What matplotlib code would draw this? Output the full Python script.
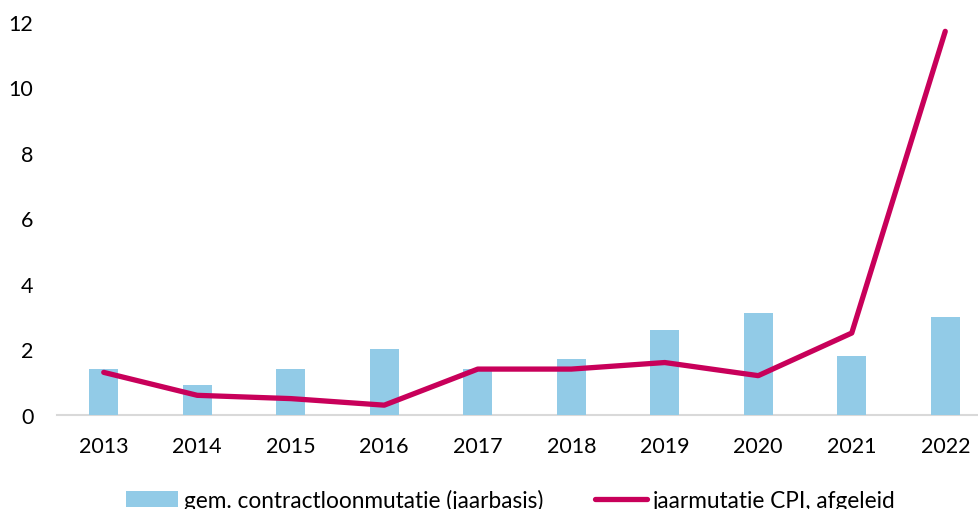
import matplotlib
matplotlib.use("Agg")
import matplotlib.pyplot as plt
import numpy as np

years = ["2013", "2014", "2015", "2016", "2017", "2018", "2019", "2020", "2021", "2022"]
contractloon = [1.4, 0.9, 1.4, 2.0, 1.4, 1.7, 2.6, 3.1, 1.8, 3.0]
cpi = [1.3, 0.6, 0.5, 0.3, 1.4, 1.4, 1.6, 1.2, 2.5, 11.7]
yticks = [0, 2, 4, 6, 8, 10, 12]

bar_color = "#92CBE7"
line_color = "#C8005A"

plt.rcParams["font.family"] = ["Lato", "DejaVu Sans"]
FS = 15.5
LFS = 16.3

fig = plt.figure(figsize=(9.79, 5.10), dpi=100)
ax = fig.add_axes([57 / 979, 94 / 510, (992 - 57) / 979, (416 - 22.5) / 510])

x = np.arange(len(years))
bars = ax.bar(x, contractloon, width=0.31, color=bar_color, zorder=2,
              label="gem. contractloonmutatie (jaarbasis)")
line, = ax.plot(x, cpi, color=line_color, lw=3.8, solid_capstyle="round",
                solid_joinstyle="round", zorder=3, label="jaarmutatie CPI, afgeleid")

ax.set_xlim(-0.5, len(years) - 0.5)
ax.set_ylim(0, 12)
ax.set_yticks(yticks)
ax.set_yticklabels([str(v) for v in yticks])
ax.set_xticks(x)
ax.set_xticklabels(years)
ax.tick_params(axis="both", length=0, labelsize=FS, colors="black")
ax.tick_params(axis="x", pad=15)
ax.tick_params(axis="y", pad=17)
for s in ["top", "right", "left"]:
    ax.spines[s].set_visible(False)
ax.spines["bottom"].set_color("#D9D9D9")
ax.spines["bottom"].set_linewidth(1.5)
ax.spines["bottom"].set_zorder(1)

leg = fig.legend([bars, line], [bars.get_label(), line.get_label()], loc="center left",
                 bbox_to_anchor=(126 / 979, 9 / 510), ncol=2, frameon=False,
                 fontsize=LFS, handlelength=2.3, handletextpad=0.25,
                 columnspacing=2.3, borderpad=0, borderaxespad=0)

fig.savefig("out.png", dpi=100)
